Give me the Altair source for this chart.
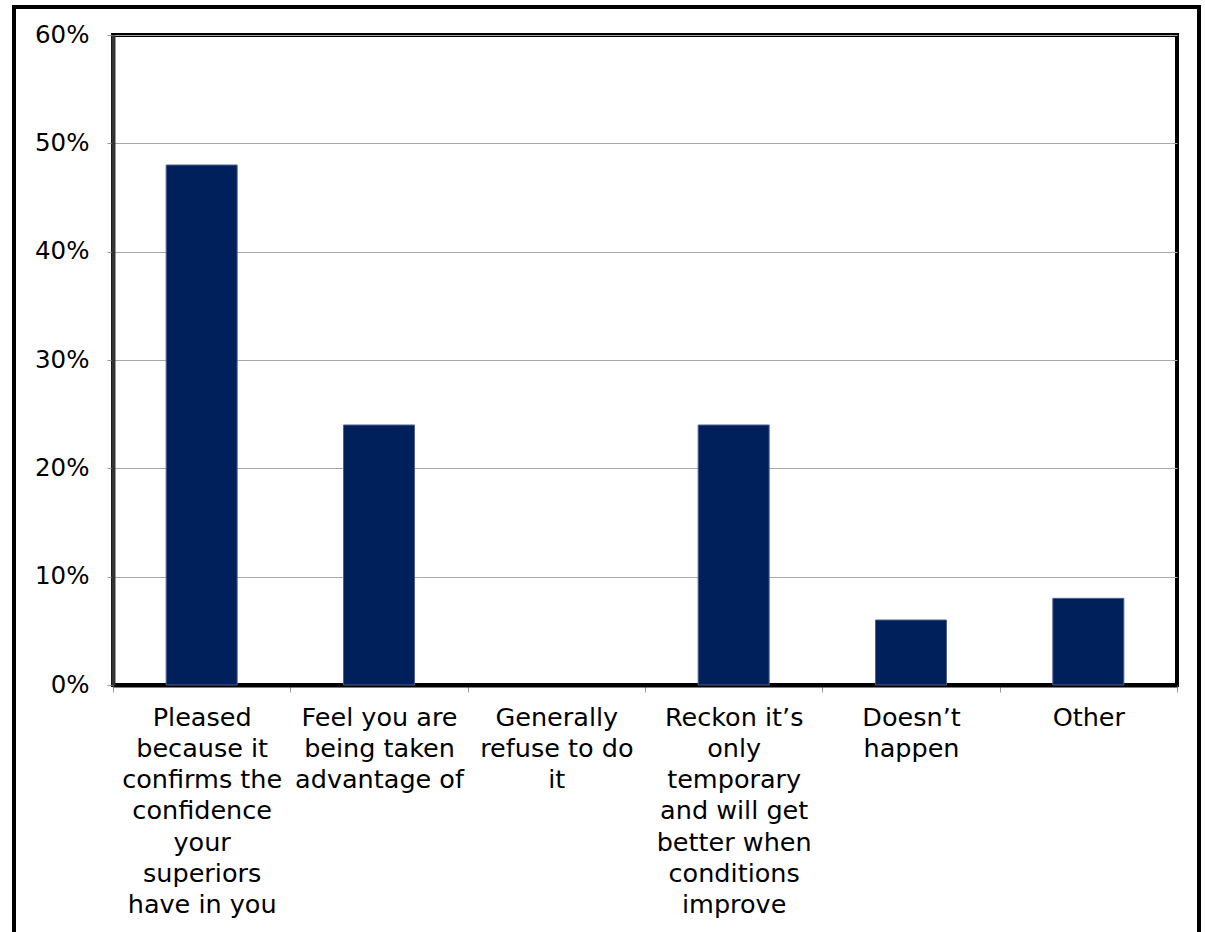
import altair as alt
import pandas as pd

# Survey responses: share of respondents per reaction
categories = [
    "Pleased|because it|confirms the|confidence|your|superiors|have in you",
    "Feel you are|being taken|advantage of",
    "Generally|refuse to do|it",
    "Reckon it’s|only|temporary|and will get|better when|conditions|improve",
    "Doesn’t|happen",
    "Other",
]
shares = [0.48, 0.24, 0.0, 0.24, 0.06, 0.08]

df = pd.DataFrame({"category": categories, "share": shares})

W, H = 1064, 650
FONT = "DejaVu Sans"

bars = alt.Chart(df).mark_bar(
    size=71, color="#00205B", stroke="#4F5F8F"
).encode(
    x=alt.X(
        "category:N",
        sort=categories,
        scale=alt.Scale(paddingInner=0, paddingOuter=0),
        axis=alt.Axis(
            title=None,
            labelAngle=0,
            labelExpr="split(datum.label, '|')",
            labelFont=FONT,
            labelFontSize=25.5,
            labelColor="#000000",
            labelLineHeight=31.3,
            labelPadding=13,
            labelLimit=0,
            tickBand="extent",
            tickColor="#9a9a9a",
            tickSize=7,
            tickWidth=1,
            domain=True,
            domainColor="#000000",
            domainWidth=4,
            grid=False,
        ),
    ),
    y=alt.Y(
        "share:Q",
        scale=alt.Scale(domain=[0, 0.6], nice=False),
        axis=alt.Axis(
            title=None,
            format=".0%",
            values=[0, 0.1, 0.2, 0.3, 0.4, 0.5, 0.6],
            labelFont=FONT,
            labelFontSize=24.5,
            labelColor="#000000",
            labelPadding=18,
            tickColor="#9a9a9a",
            tickSize=6,
            tickWidth=1,
            domainColor="#333333",
            domainWidth=4,
            grid=True,
            gridColor="#a8a8a8",
            gridWidth=1,
        ),
    ),
    strokeWidth=alt.condition(alt.datum.share > 0, alt.value(1), alt.value(0)),
)

# Outer frame around the whole figure
frame = alt.Chart(pd.DataFrame({"k": [0]})).mark_rect(
    fill=None, stroke="#000000", strokeWidth=4, clip=False
).encode(
    x=alt.value(-99),
    x2=alt.value(1086),
    y=alt.value(-28),
    y2=alt.value(1000),
)

chart = (
    alt.layer(bars, frame)
    .properties(
        width=W,
        height=H,
        autosize=alt.AutoSizeParams(type="none"),
        padding={"left": 113, "top": 35, "right": 28, "bottom": 247},
        background="#ffffff",
    )
    .configure_view(stroke="#000000", strokeWidth=4)
)

chart.save("out.html", embed_options={"renderer": "svg", "actions": False})
